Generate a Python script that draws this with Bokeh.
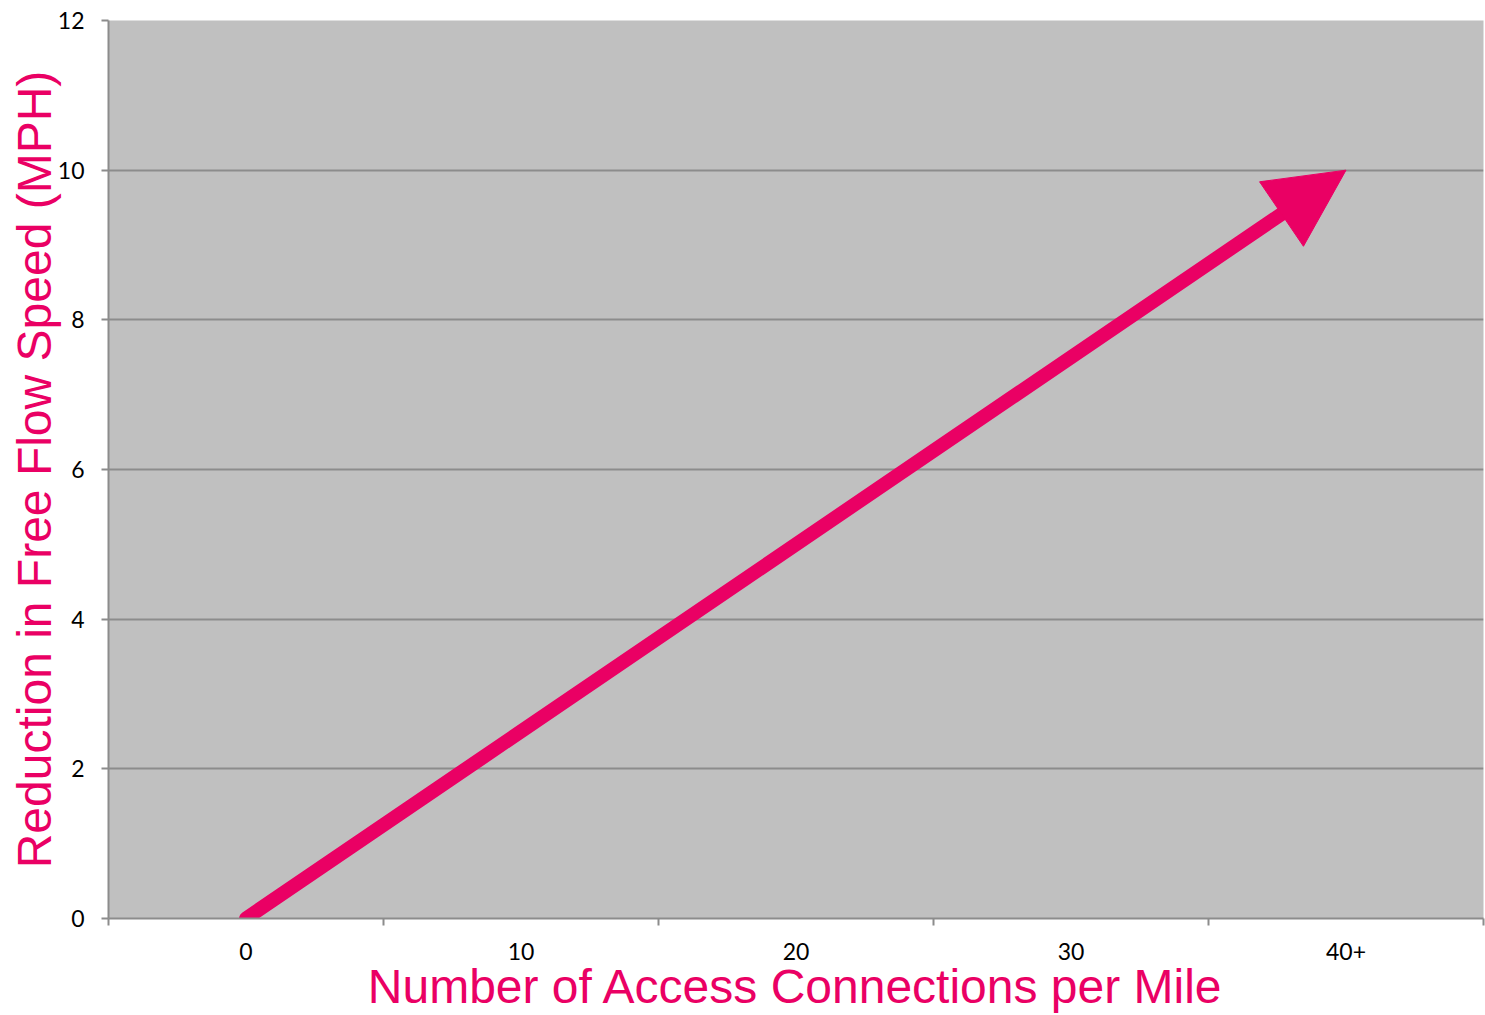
from bokeh.plotting import figure
from bokeh.models import Range1d, FixedTicker, Arrow, NormalHead
from bokeh.embed import file_html
from bokeh.resources import INLINE

# Category labels along the x axis and the trend endpoints (MPH)
categories = ["0", "10", "20", "30", "40+"]
y_ticks = [0, 2, 4, 6, 8, 10, 12]
trend_start = ("0", 0)
trend_end = ("40+", 10)

PINK = "#EA0064"
GRID = "#8C8C8C"

# categories sit at the centre of unit-wide slots
pos = {c: i + 0.5 for i, c in enumerate(categories)}

p = figure(
    width=1485, height=1015,
    output_backend="svg", toolbar_location=None,
    x_range=Range1d(0, len(categories)), y_range=Range1d(0, 12),
    min_border_left=108, min_border_right=2, min_border_top=20, min_border_bottom=97,
)
p.background_fill_color = "#C0C0C0"
p.border_fill_color = "white"
p.outline_line_color = None

# x axis: labels at slot centres, tick marks at slot boundaries
p.xaxis.ticker = FixedTicker(ticks=[pos[c] for c in categories],
                             minor_ticks=list(range(len(categories) + 1)))
p.xaxis.major_label_overrides = {pos[c]: c for c in categories}
p.xaxis.major_tick_out = 0
p.xaxis.major_tick_in = 0
p.xaxis.minor_tick_out = 7
p.xaxis.minor_tick_in = 0
p.xaxis.minor_tick_line_color = GRID
p.xaxis.minor_tick_line_width = 2
p.xaxis.major_label_standoff = 17
p.xgrid.grid_line_color = None

# y axis
p.yaxis.ticker = FixedTicker(ticks=y_ticks)
p.yaxis.major_tick_out = 7
p.yaxis.major_tick_in = 0
p.yaxis.minor_tick_line_color = None
p.yaxis.major_tick_line_color = GRID
p.yaxis.major_tick_line_width = 2
p.yaxis.major_label_standoff = 17
p.ygrid.grid_line_color = GRID
p.ygrid.grid_line_width = 2

for ax in (p.xaxis, p.yaxis):
    ax.axis_line_color = GRID
    ax.axis_line_width = 2
    ax.major_label_text_font = "Lato"
    ax.major_label_text_font_size = "23px"
    ax.major_label_text_color = "black"
    ax.axis_label_text_font = "Liberation Sans"
    ax.axis_label_text_font_size = "48px"
    ax.axis_label_text_font_style = "normal"
    ax.axis_label_text_color = PINK

p.xaxis.axis_label = "Number of Access Connections per Mile"
p.xaxis.axis_label_standoff = -3
p.yaxis.axis_label = "Reduction in Free Flow Speed (MPH)"
p.yaxis.axis_label_standoff = -6

# trend arrow: round-capped shaft that ends inside the head, then the head itself
x0, y0 = pos[trend_start[0]], trend_start[1]
x1, y1 = pos[trend_end[0]], trend_end[1]
shaft_frac = 0.97
p.segment(x0=[x0], y0=[y0],
          x1=[x0 + shaft_frac * (x1 - x0)], y1=[y0 + shaft_frac * (y1 - y0)],
          line_color=PINK, line_width=14, line_cap="round")
p.add_layout(Arrow(
    x_start=x0, y_start=y0, x_end=x1, y_end=y1,
    line_alpha=0, line_width=1,
    end=NormalHead(size=78, fill_color=PINK, line_color=PINK, line_width=1),
))

open("out.html", "w").write(file_html(p, INLINE))
